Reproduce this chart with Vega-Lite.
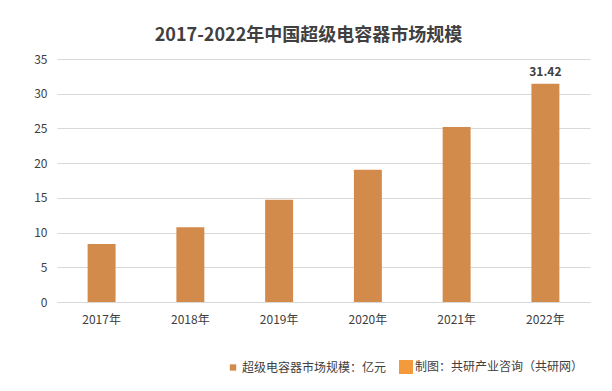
{
  "$schema": "https://vega.github.io/schema/vega-lite/v6.json",
  "autosize": "none",
  "width": 533,
  "height": 243,
  "padding": {"left": 57, "top": 59, "right": 22, "bottom": 89},
  "background": "#FFFFFF",
  "config": {
    "font": "Noto Sans CJK SC",
    "view": {"stroke": null}
  },
  "title": {
    "text": "2017-2022年中国超级电容器市场规模",
    "fontSize": 18,
    "fontWeight": "bold",
    "color": "#404040",
    "anchor": "middle",
    "dx": -15,
    "offset": 8
  },
  "data": {
    "values": [
      {"year": "2017年", "value": 8.36, "series": "超级电容器市场规模：亿元"},
      {"year": "2018年", "value": 10.77, "series": "超级电容器市场规模：亿元"},
      {"year": "2019年", "value": 14.71, "series": "超级电容器市场规模：亿元"},
      {"year": "2020年", "value": 19.04, "series": "超级电容器市场规模：亿元"},
      {"year": "2021年", "value": 25.19, "series": "超级电容器市场规模：亿元"},
      {"year": "2022年", "value": 31.42, "series": "超级电容器市场规模：亿元"}
    ]
  },
  "encoding": {
    "x": {
      "field": "year",
      "type": "nominal",
      "sort": null,
      "scale": {"paddingInner": 0.685, "paddingOuter": 0.345},
      "axis": {
        "title": null,
        "labelAngle": 0,
        "labelFontSize": 12,
        "labelColor": "#404040",
        "labelPadding": 12,
        "ticks": false,
        "domain": true,
        "domainColor": "#D9D9D9"
      }
    },
    "y": {
      "field": "value",
      "type": "quantitative",
      "scale": {"domain": [0, 35], "nice": false},
      "axis": {
        "title": null,
        "values": [0, 5, 10, 15, 20, 25, 30, 35],
        "labelFontSize": 12,
        "labelColor": "#404040",
        "labelPadding": 10,
        "ticks": false,
        "domain": false,
        "gridColor": "#D9D9D9",
        "gridWidth": 1
      }
    }
  },
  "layer": [
    {
      "mark": {"type": "bar"},
      "encoding": {
        "color": {
          "field": "series",
          "type": "nominal",
          "scale": {
            "domain": ["超级电容器市场规模：亿元", "制图：共研产业咨询（共研网）"],
            "range": ["#D38B4C", "#F39A3C"]
          },
          "legend": {
            "title": null,
            "orient": "none",
            "direction": "horizontal",
            "legendX": 170,
            "legendY": 302,
            "symbolType": "square",
            "symbolSize": 40,
            "symbolStrokeWidth": 0,
            "labelFontSize": 12,
            "labelColor": "#404040",
            "labelOffset": 3,
            "columnPadding": 12,
            "labelLimit": 300,
            "encode": {
              "symbols": {
                "update": {
                  "size": {"signal": "datum.index === 1 ? 196 : 40"}
                }
              }
            }
          }
        }
      }
    },
    {
      "transform": [{"filter": "datum.year === '2022年'"}],
      "mark": {
        "type": "text",
        "dy": -12,
        "fontSize": 12,
        "fontWeight": "bold",
        "color": "#404040"
      },
      "encoding": {
        "text": {"field": "value", "type": "quantitative", "format": ".2f"}
      }
    }
  ]
}
